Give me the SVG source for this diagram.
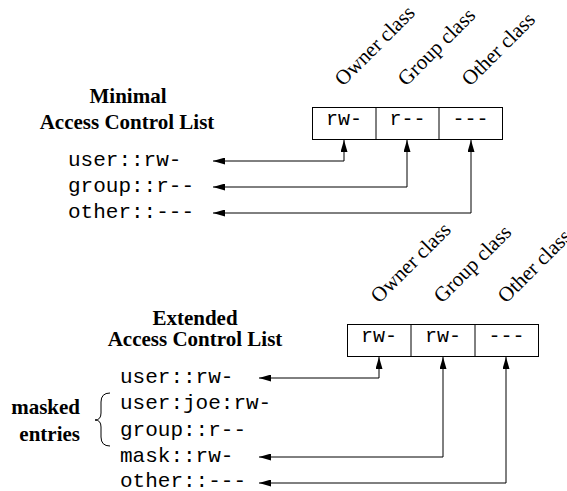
<svg xmlns="http://www.w3.org/2000/svg" width="567" height="491" viewBox="0 0 567 491">
  <style>
    .head { font-family: "Liberation Serif", "Times New Roman", serif; font-weight: bold; font-size: 21px; fill: #000; text-anchor: middle; }
    .cls { font-family: "Liberation Serif", "Times New Roman", serif; font-size: 21px; fill: #000; }
    .mono { font-family: "Liberation Mono", "Courier New", monospace; font-size: 21px; fill: #000; }
    .cell { font-family: "Liberation Mono", "Courier New", monospace; font-size: 20px; fill: #000; text-anchor: middle; }
    .box { fill: #fff; stroke: #000; stroke-width: 1; }
    .conn { fill: none; stroke: #000; stroke-width: 1; marker-start: url(#ah); marker-end: url(#ah); }
  </style>
  <defs>
    <marker id="ah" viewBox="0 0 12 7" refX="12" refY="3.5" markerWidth="12" markerHeight="7" markerUnits="userSpaceOnUse" orient="auto-start-reverse">
      <path d="M0,0 L12,3.5 L0,7 z" fill="#000"/>
    </marker>
  </defs>
  <rect width="567" height="491" fill="#fff"/>

  <!-- Minimal ACL -->
  <g id="minimal-title">
    <text class="head" x="128" y="103">Minimal</text>
    <text class="head" x="127" y="129">Access Control List</text>
  </g>
  <g id="minimal-classes">
    <text class="cls" transform="translate(343,87) rotate(-45)">Owner class</text>
    <text class="cls" transform="translate(406,87) rotate(-45)">Group class</text>
    <text class="cls" transform="translate(470,87) rotate(-45)">Other class</text>
  </g>
  <g id="minimal-perms">
    <rect class="box" x="312.5" y="107.5" width="190" height="32"/>
    <line x1="376" y1="107.5" x2="376" y2="139.5" stroke="#000"/>
    <line x1="439" y1="107.5" x2="439" y2="139.5" stroke="#000"/>
    <text class="cell" x="344" y="125">rw-</text>
    <text class="cell" x="407.5" y="125">r--</text>
    <text class="cell" x="470.5" y="125">---</text>
  </g>
  <g id="minimal-entries">
    <text class="mono" x="68" y="166">user::rw-</text>
    <text class="mono" x="68" y="192">group::r--</text>
    <text class="mono" x="68" y="218">other::---</text>
  </g>

  <!-- Extended ACL -->
  <g id="extended-title">
    <text class="head" x="195" y="324.5">Extended</text>
    <text class="head" x="195" y="345.5">Access Control List</text>
  </g>
  <g id="extended-classes">
    <text class="cls" transform="translate(379,304) rotate(-45)">Owner class</text>
    <text class="cls" transform="translate(442,304) rotate(-45)">Group class</text>
    <text class="cls" transform="translate(506,304) rotate(-45)">Other class</text>
  </g>
  <g id="extended-perms">
    <rect class="box" x="347.5" y="324.5" width="191" height="32"/>
    <line x1="411" y1="324.5" x2="411" y2="356.5" stroke="#000"/>
    <line x1="475" y1="324.5" x2="475" y2="356.5" stroke="#000"/>
    <text class="cell" x="379" y="342">rw-</text>
    <text class="cell" x="443" y="342">rw-</text>
    <text class="cell" x="506.5" y="342">---</text>
  </g>
  <g id="extended-entries">
    <text class="mono" x="120" y="383">user::rw-</text>
    <text class="mono" x="120" y="409">user:joe:rw-</text>
    <text class="mono" x="120" y="435.5">group::r--</text>
    <text class="mono" x="120" y="461.5">mask::rw-</text>
    <text class="mono" x="120" y="486.5">other::---</text>
  </g>
  <g id="masked-label">
    <text class="head" style="text-anchor:end" x="80" y="414">masked</text>
    <text class="head" style="text-anchor:end" x="80" y="441">entries</text>
    <path d="M110,393 Q101,393 101,402 L101,413 Q101,420 95,420 Q101,420 101,427 L101,437 Q101,446 110,446" fill="none" stroke="#000" stroke-width="1"/>
  </g>

  <g id="connectors">
    <path class="conn" d="M344,140 V161 H213"/>
    <path class="conn" d="M407,140 V187 H213"/>
    <path class="conn" d="M471,140 V213 H213"/>
    <path class="conn" d="M379,357 V378 H259"/>
    <path class="conn" d="M443,357 V457 H259"/>
    <path class="conn" d="M506,357 V483 H259"/>
  </g>
</svg>
